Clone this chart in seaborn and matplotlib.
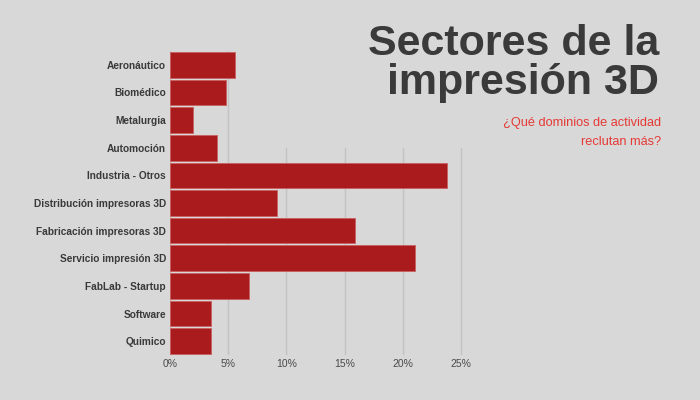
import seaborn as sns
import pandas as pd
import matplotlib.pyplot as plt
from matplotlib.patches import Rectangle

# Data
sectores = ['Aeronáutico', 'Biomédico', 'Metalurgia', 'Automoción', 'Industria - Otros',
            'Distribución impresoras 3D', 'Fabricación impresoras 3D', 'Servicio impresión 3D',
            'FabLab - Startup', 'Software', 'Quimico']
porcentaje = [5.6, 4.8, 2.0, 4.0, 23.8, 9.2, 15.9, 21.0, 6.8, 3.5, 3.5]
ticks = [0, 5, 10, 15, 20, 25]
tick_labels = ['0%', '5%', '10%', '15%', '20%', '25%']

bg = '#d8d8d8'
df = pd.DataFrame({'sector': sectores, 'pct': porcentaje})

sns.set_style('white')
plt.rcParams['font.family'] = ['Liberation Sans', 'DejaVu Sans']

fig = plt.figure(figsize=(7, 4), dpi=100, facecolor=bg)
ax = fig.add_axes([0.243, 0.1125, 0.4323, 0.76])
ax.set_facecolor(bg)

sns.barplot(data=df, x='pct', y='sector', orient='h', color='#a91b1d',
            width=0.93, edgecolor='#c9605f', linewidth=0.6, saturation=1, ax=ax)

ax.set_xlim(0, 26)
ax.set_ylim(10.5, -0.5)
ax.set_xticks(ticks)
ax.set_xticklabels(tick_labels, fontsize=7.5, color='#4a4a4a')
ax.tick_params(axis='x', length=0, pad=3)
ax.tick_params(axis='y', length=0, pad=3)
for lbl in ax.get_yticklabels():
    lbl.set_fontweight('bold')
    lbl.set_fontsize(7.3)
    lbl.set_color('#3a3a3a')
ax.set_xlabel('')
ax.set_ylabel('')
ax.grid(axis='x', color='#c2c2c2', linewidth=1)
ax.set_axisbelow(True)
for s in ax.spines.values():
    s.set_visible(False)

# box behind the title hides the upper part of the grid
fig.patches.append(Rectangle((250 / 700, 1 - 148 / 400), 450 / 700, 148 / 400,
                             transform=fig.transFigure, facecolor=bg, edgecolor='none'))

fig.text(659 / 700, 1 - 55 / 400, 'Sectores de la', ha='right', va='baseline',
         fontsize=31, fontweight='bold', color='#3a3a3a', zorder=3)
fig.text(659 / 700, 1 - 94 / 400, 'impresión 3D', ha='right', va='baseline',
         fontsize=31, fontweight='bold', color='#3a3a3a', zorder=3)
fig.text(661 / 700, 1 - 123 / 400, '¿Qué dominios de actividad', ha='right', va='center',
         fontsize=9.2, color='#e53935', zorder=3)
fig.text(661 / 700, 1 - 142 / 400, 'reclutan más?', ha='right', va='center',
         fontsize=9.2, color='#e53935', zorder=3)

fig.savefig('out.png', dpi=100, facecolor=bg)
